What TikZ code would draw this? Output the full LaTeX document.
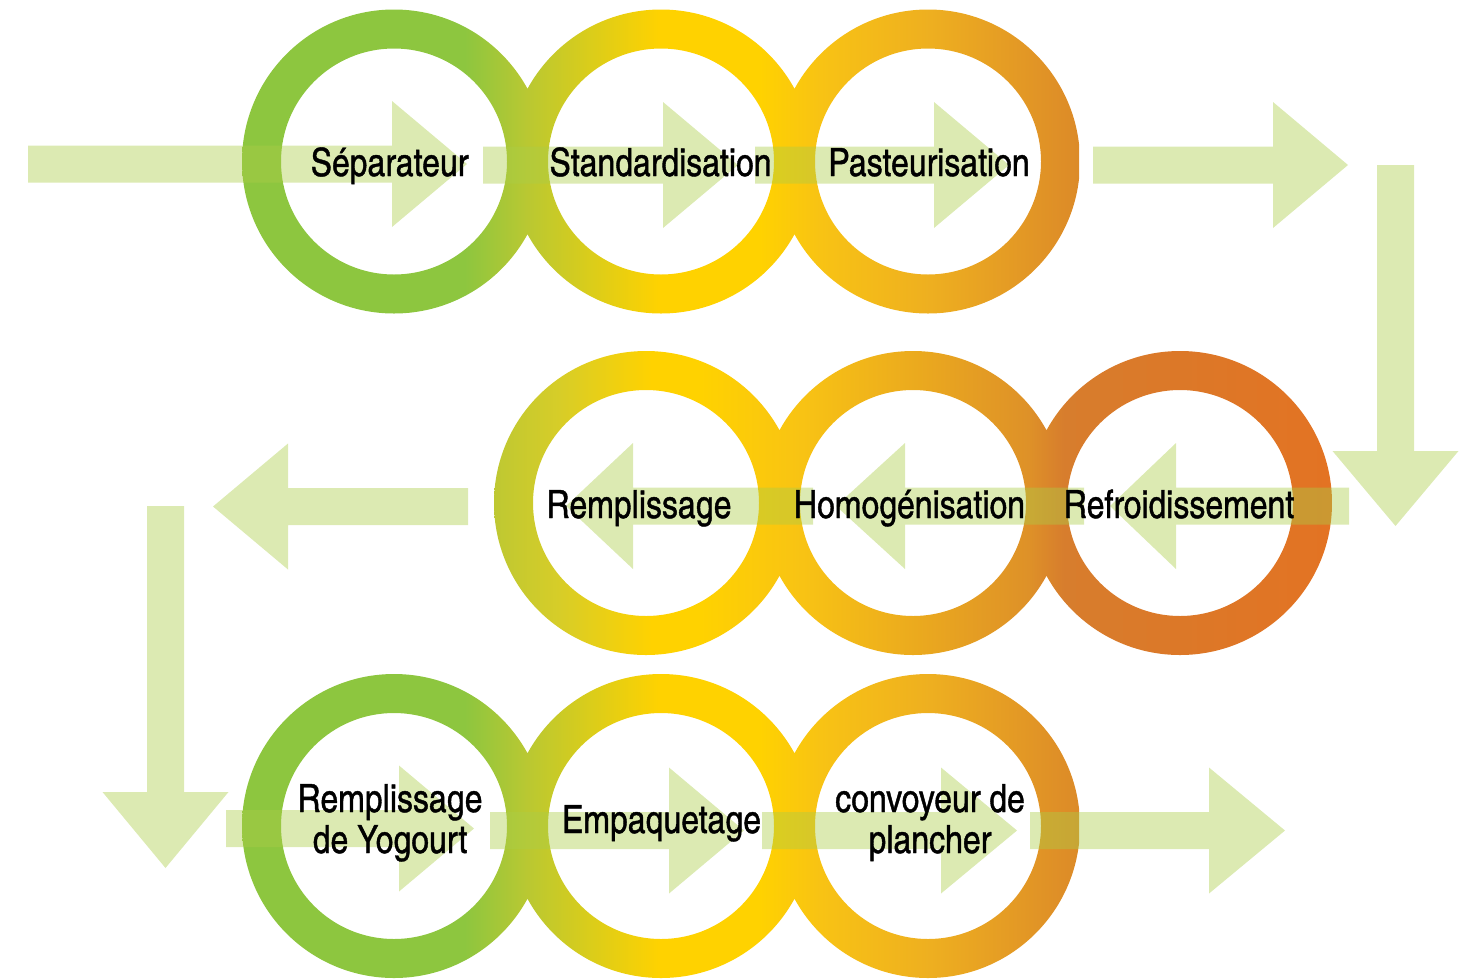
\documentclass[tikz,border=0pt]{standalone}
\usepackage{fontspec}
\setmainfont{texgyreheroscn}[Extension=.otf, UprightFont=*-regular, BoldFont=*-bold, ItalicFont=*-italic, BoldItalicFont=*-bolditalic, FakeBold=1]
\definecolor{arrowgreen}{RGB}{171,205,71}
\definecolor{ga}{RGB}{141,198,63}
\definecolor{gb}{RGB}{185,200,50}
\definecolor{yy}{RGB}{255,210,0}
\definecolor{ya}{RGB}{248,195,20}
\definecolor{oa}{RGB}{238,175,32}
\definecolor{ob}{RGB}{220,138,40}
\definecolor{ra}{RGB}{190,200,50}
\definecolor{rb}{RGB}{215,205,40}
\definecolor{rc}{RGB}{222,145,40}
\definecolor{rd}{RGB}{215,125,45}
\definecolor{re}{RGB}{220,120,40}
\definecolor{rf}{RGB}{227,115,35}
\pgfdeclarehorizontalshading{rowone}{100bp}{color(0bp)=(ga); color(25bp)=(ga); color(38.3bp)=(ga); color(42bp)=(gb); color(50bp)=(yy); color(55.9bp)=(yy); color(59.5bp)=(ya); color(66.1bp)=(oa); color(75bp)=(ob); color(100bp)=(ob)}
\pgfdeclarehorizontalshading{rowtwo}{100bp}{color(0bp)=(ra); color(25bp)=(ra); color(28.9bp)=(rb); color(34.4bp)=(yy); color(37.3bp)=(yy); color(43.4bp)=(ya); color(56.9bp)=(rc); color(59bp)=(rd); color(66bp)=(re); color(75bp)=(rf); color(100bp)=(rf)}
\newcommand\harrow[4]{%
  \fill[flowarrow] (#1,#4-18.5) -- (#2,#4-18.5) -- (#2,#4-63) -- (#3,#4) -- (#2,#4+63) -- (#2,#4+18.5) -- (#1,#4+18.5) -- cycle;}
\newcommand\varrow[4]{%
  \fill[flowarrow] (#1-18.5,#2) -- (#1-18.5,#3) -- (#1-63,#3) -- (#1,#4) -- (#1+63,#3) -- (#1+18.5,#3) -- (#1+18.5,#2) -- cycle;}
\begin{document}
\begin{tikzpicture}[x=1pt,y=-1pt,
  flowarrow/.style={fill=arrowgreen, fill opacity=0.42},
  steplabel/.style={font=\fontsize{39}{41}\selectfont, text=black, inner sep=0pt, align=center}]
\useasboundingbox (0,0) rectangle (1469,978);
% ---- rings, row 1
\begin{scope}
\clip \foreach \cx in {394,661,928}{ (\cx,161.5) ++(152,0) arc[start angle=0,end angle=360,radius=152pt] (\cx,161.5) ++(113,0) arc[start angle=360,end angle=0,radius=113pt] };
\shade[shading=rowone] (242,0) rectangle (1079,330);
\end{scope}
% ---- rings, row 2
\begin{scope}
\clip \foreach \cx in {646,913,1180}{ (\cx,503) ++(152,0) arc[start angle=0,end angle=360,radius=152pt] (\cx,503) ++(113,0) arc[start angle=360,end angle=0,radius=113pt] };
\shade[shading=rowtwo] (494,340) rectangle (1332,670);
\end{scope}
% ---- rings, row 3
\begin{scope}
\clip \foreach \cx in {394,661,928}{ (\cx,826) ++(152,0) arc[start angle=0,end angle=360,radius=152pt] (\cx,826) ++(113,0) arc[start angle=360,end angle=0,radius=113pt] };
\shade[shading=rowone] (242,660) rectangle (1079,990);
\end{scope}
% ---- arrows
\harrow{28}{392}{467}{164}
\harrow{483}{663}{738}{165}
\harrow{755}{934}{1009}{165}
\harrow{1093}{1273}{1348}{165}
\varrow{1395.5}{165}{451}{526}
\harrow{1349}{1176}{1110}{506}
\harrow{1084}{905}{836}{506}
\harrow{813}{633}{566}{506}
\harrow{468}{288}{213}{506.5}
\varrow{165.5}{506}{792}{868}
\harrow{226}{399}{474}{828.5}
\harrow{490}{669}{744}{830.5}
\harrow{762}{941}{1017}{830.5}
\harrow{1030}{1209}{1285}{830.5}
% ---- labels
\node[steplabel, anchor=base] (sep) at (389.5,176) {Séparateur};
\node[steplabel, anchor=base] (std) at (660.5,176) {Standardisation};
\node[steplabel, anchor=base] (pas) at (929,176) {Pasteurisation};
\node[steplabel, anchor=base] (ref) at (1179,518) {Refroidissement};
\node[steplabel, anchor=base] (hom) at (909.5,518) {Homogénisation};
\node[steplabel, anchor=base] (rem) at (639,518) {Remplissage};
\node[steplabel, anchor=base] (yog) at (390,853) {Remplissage\\de Yogourt};
\node[steplabel, anchor=base] (emp) at (661.5,833) {Empaquetage};
\node[steplabel, anchor=base] (con) at (930,853) {convoyeur de\\plancher};
\end{tikzpicture}
\end{document}
